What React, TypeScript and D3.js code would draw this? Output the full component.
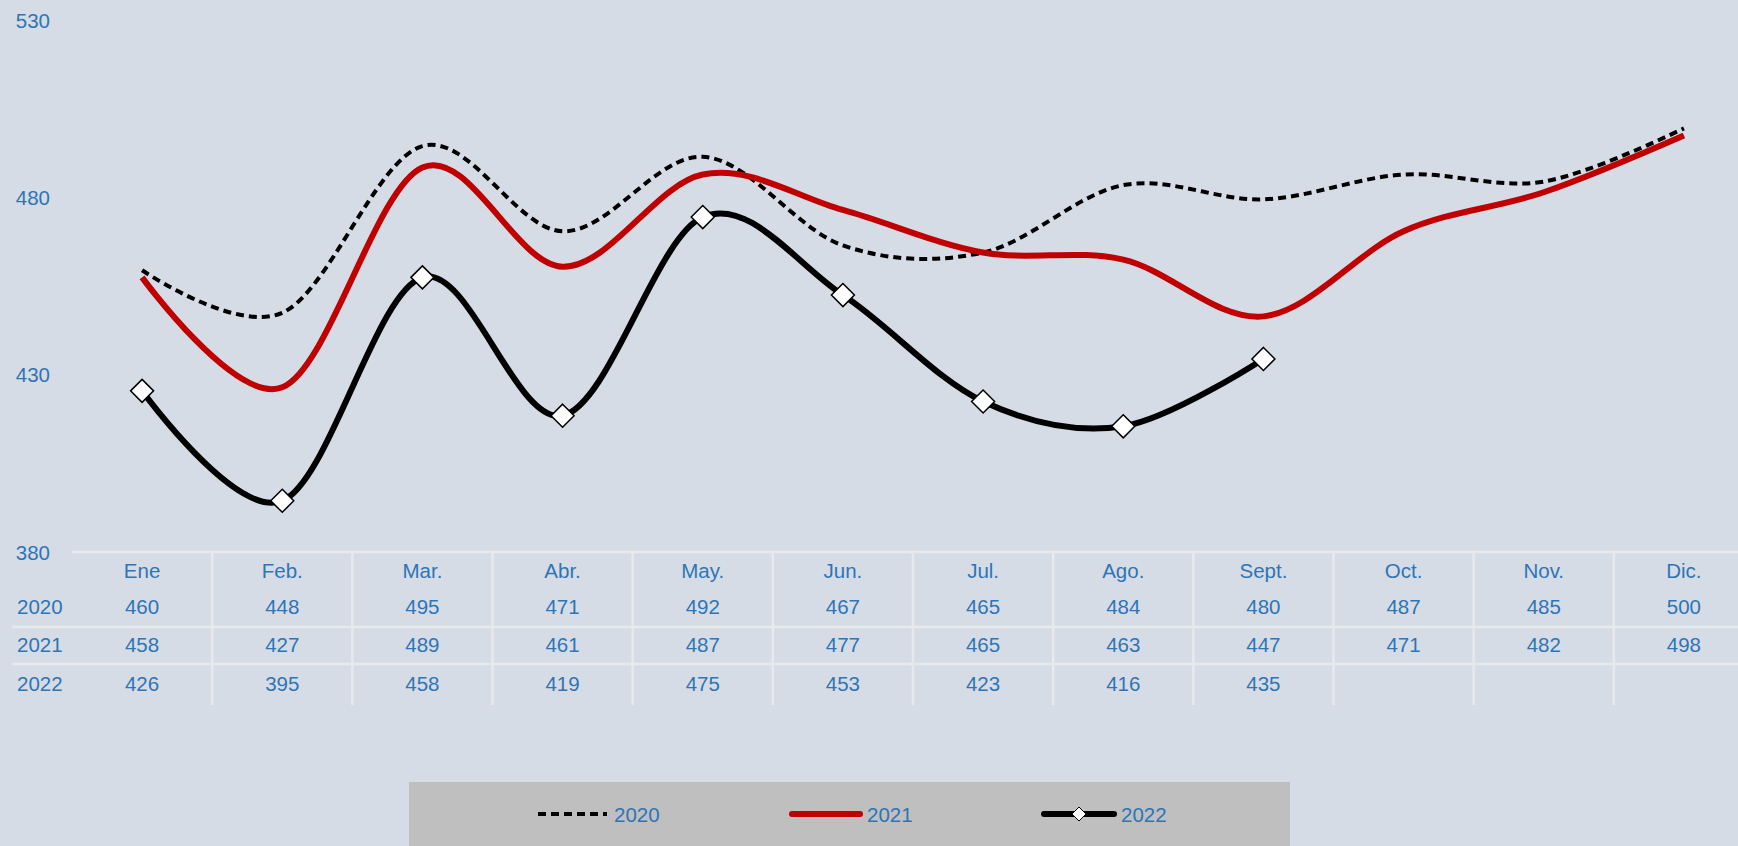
import React, { useEffect, useRef } from "react";
import * as d3 from "d3";

const months = ["Ene", "Feb.", "Mar.", "Abr.", "May.", "Jun.", "Jul.", "Ago.", "Sept.", "Oct.", "Nov.", "Dic."];
const years = ["2020", "2021", "2022"];
const values2020 = [460, 448, 495, 471, 492, 467, 465, 484, 480, 487, 485, 500];
const values2021 = [458, 427, 489, 461, 487, 477, 465, 463, 447, 471, 482, 498];
const values2022 = [426, 395, 458, 419, 475, 453, 423, 416, 435];
const yTicks = [380, 430, 480, 530];

const W = 1738;
const H = 846;
const BLUE = "#2e75b6";
const FONT = "'Liberation Sans', Arial, sans-serif";

export default function App() {
  const chart = useRef<SVGSVGElement>(null);

  useEffect(() => {
    const svg = d3.select(chart.current);
    svg.selectAll("*").remove();

    svg.append("rect").attr("width", W).attr("height", H).attr("fill", "#d6dce5");

    // scales (the table runs a bit past the right edge, as in the original)
    const x = d3.scaleBand<string>().domain(months).range([72, 1754]);
    const cx = (m: string) => (x(m) as number) + x.bandwidth() / 2;
    const y = d3.scaleLinear().domain([380, 530]).range([554, 22]);

    // y axis labels
    svg
      .append("g")
      .selectAll("text")
      .data(yTicks)
      .join("text")
      .attr("x", 50)
      .attr("y", (d) => y(d) - 2)
      .attr("text-anchor", "end")
      .attr("dominant-baseline", "central")
      .attr("font-family", FONT)
      .attr("font-size", 20.5)
      .attr("fill", BLUE)
      .text((d) => d);

    // data table grid
    const grid = svg.append("g").attr("stroke", "#e7e9ed").attr("stroke-width", 2.5);
    grid.append("line").attr("x1", 72).attr("x2", W).attr("y1", 552).attr("y2", 552);
    [627, 664].forEach((yy) => {
      grid.append("line").attr("x1", 12).attr("x2", W).attr("y1", yy).attr("y2", yy);
    });
    grid
      .selectAll("line.v")
      .data(months.slice(1))
      .join("line")
      .attr("class", "v")
      .attr("x1", (d) => x(d) as number)
      .attr("x2", (d) => x(d) as number)
      .attr("y1", 552)
      .attr("y2", 705);

    const table = svg
      .append("g")
      .attr("font-family", FONT)
      .attr("font-size", 20.5)
      .attr("fill", BLUE)
      .attr("dominant-baseline", "central");

    table
      .selectAll("text.month")
      .data(months)
      .join("text")
      .attr("class", "month")
      .attr("x", (d) => cx(d))
      .attr("y", 570)
      .attr("text-anchor", "middle")
      .text((d) => d);

    const rowY = [606, 644, 683];
    const rows = [values2020, values2021, values2022];
    rows.forEach((vals, r) => {
      table.append("text").attr("x", 17).attr("y", rowY[r]).text(years[r]);
      table
        .append("g")
        .selectAll("text")
        .data(vals)
        .join("text")
        .attr("x", (d, i) => cx(months[i]))
        .attr("y", rowY[r])
        .attr("text-anchor", "middle")
        .text((d) => d);
    });

    // lines
    const line = d3
      .line<number>()
      .x((d, i) => cx(months[i]))
      .y((d) => y(d))
      .curve(d3.curveCardinal.tension(0));

    svg
      .append("path")
      .datum(values2020)
      .attr("d", line)
      .attr("fill", "none")
      .attr("stroke", "#000")
      .attr("stroke-width", 4)
      .attr("stroke-dasharray", "8,5");

    svg
      .append("path")
      .datum(values2021)
      .attr("d", line)
      .attr("fill", "none")
      .attr("stroke", "#c00000")
      .attr("stroke-width", 6);

    svg
      .append("path")
      .datum(values2022)
      .attr("d", line)
      .attr("fill", "none")
      .attr("stroke", "#000")
      .attr("stroke-width", 6);

    const diamond = (size: number) => `M0,${-size}L${size},0L0,${size}L${-size},0Z`;

    svg
      .append("g")
      .selectAll("path")
      .data(values2022)
      .join("path")
      .attr("transform", (d, i) => `translate(${cx(months[i])},${y(d)})`)
      .attr("d", diamond(11.5))
      .attr("fill", "#fff")
      .attr("stroke", "#000")
      .attr("stroke-width", 1.5);

    // legend
    const legend = svg.append("g");
    legend.append("rect").attr("x", 409).attr("y", 782).attr("width", 881).attr("height", H - 782).attr("fill", "#bfbfbf");
    const ly = 814;
    const items = [
      { label: "2020", x1: 538, x2: 607, color: "#000", width: 4, dash: "8,5", marker: false },
      { label: "2021", x1: 792, x2: 860, color: "#c00000", width: 6, dash: null, marker: false },
      { label: "2022", x1: 1044, x2: 1114, color: "#000", width: 6, dash: null, marker: true },
    ];
    items.forEach((it) => {
      legend
        .append("line")
        .attr("x1", it.x1)
        .attr("x2", it.x2)
        .attr("y1", ly)
        .attr("y2", ly)
        .attr("stroke", it.color)
        .attr("stroke-width", it.width)
        .attr("stroke-linecap", it.dash ? "butt" : "round")
        .attr("stroke-dasharray", it.dash);
      if (it.marker) {
        legend
          .append("path")
          .attr("transform", `translate(${(it.x1 + it.x2) / 2},${ly})`)
          .attr("d", diamond(7))
          .attr("fill", "#fff")
          .attr("stroke", "#000")
          .attr("stroke-width", 1);
      }
      legend
        .append("text")
        .attr("x", it.x2 + 7)
        .attr("y", ly)
        .attr("dominant-baseline", "central")
        .attr("font-family", FONT)
        .attr("font-size", 20.5)
        .attr("fill", BLUE)
        .text(it.label);
    });
  }, []);

  return (
    <svg
      ref={chart}
      width={W}
      height={H}
      style={{ position: "absolute", left: 0, top: 0, display: "block" }}
    ></svg>
  );
}
